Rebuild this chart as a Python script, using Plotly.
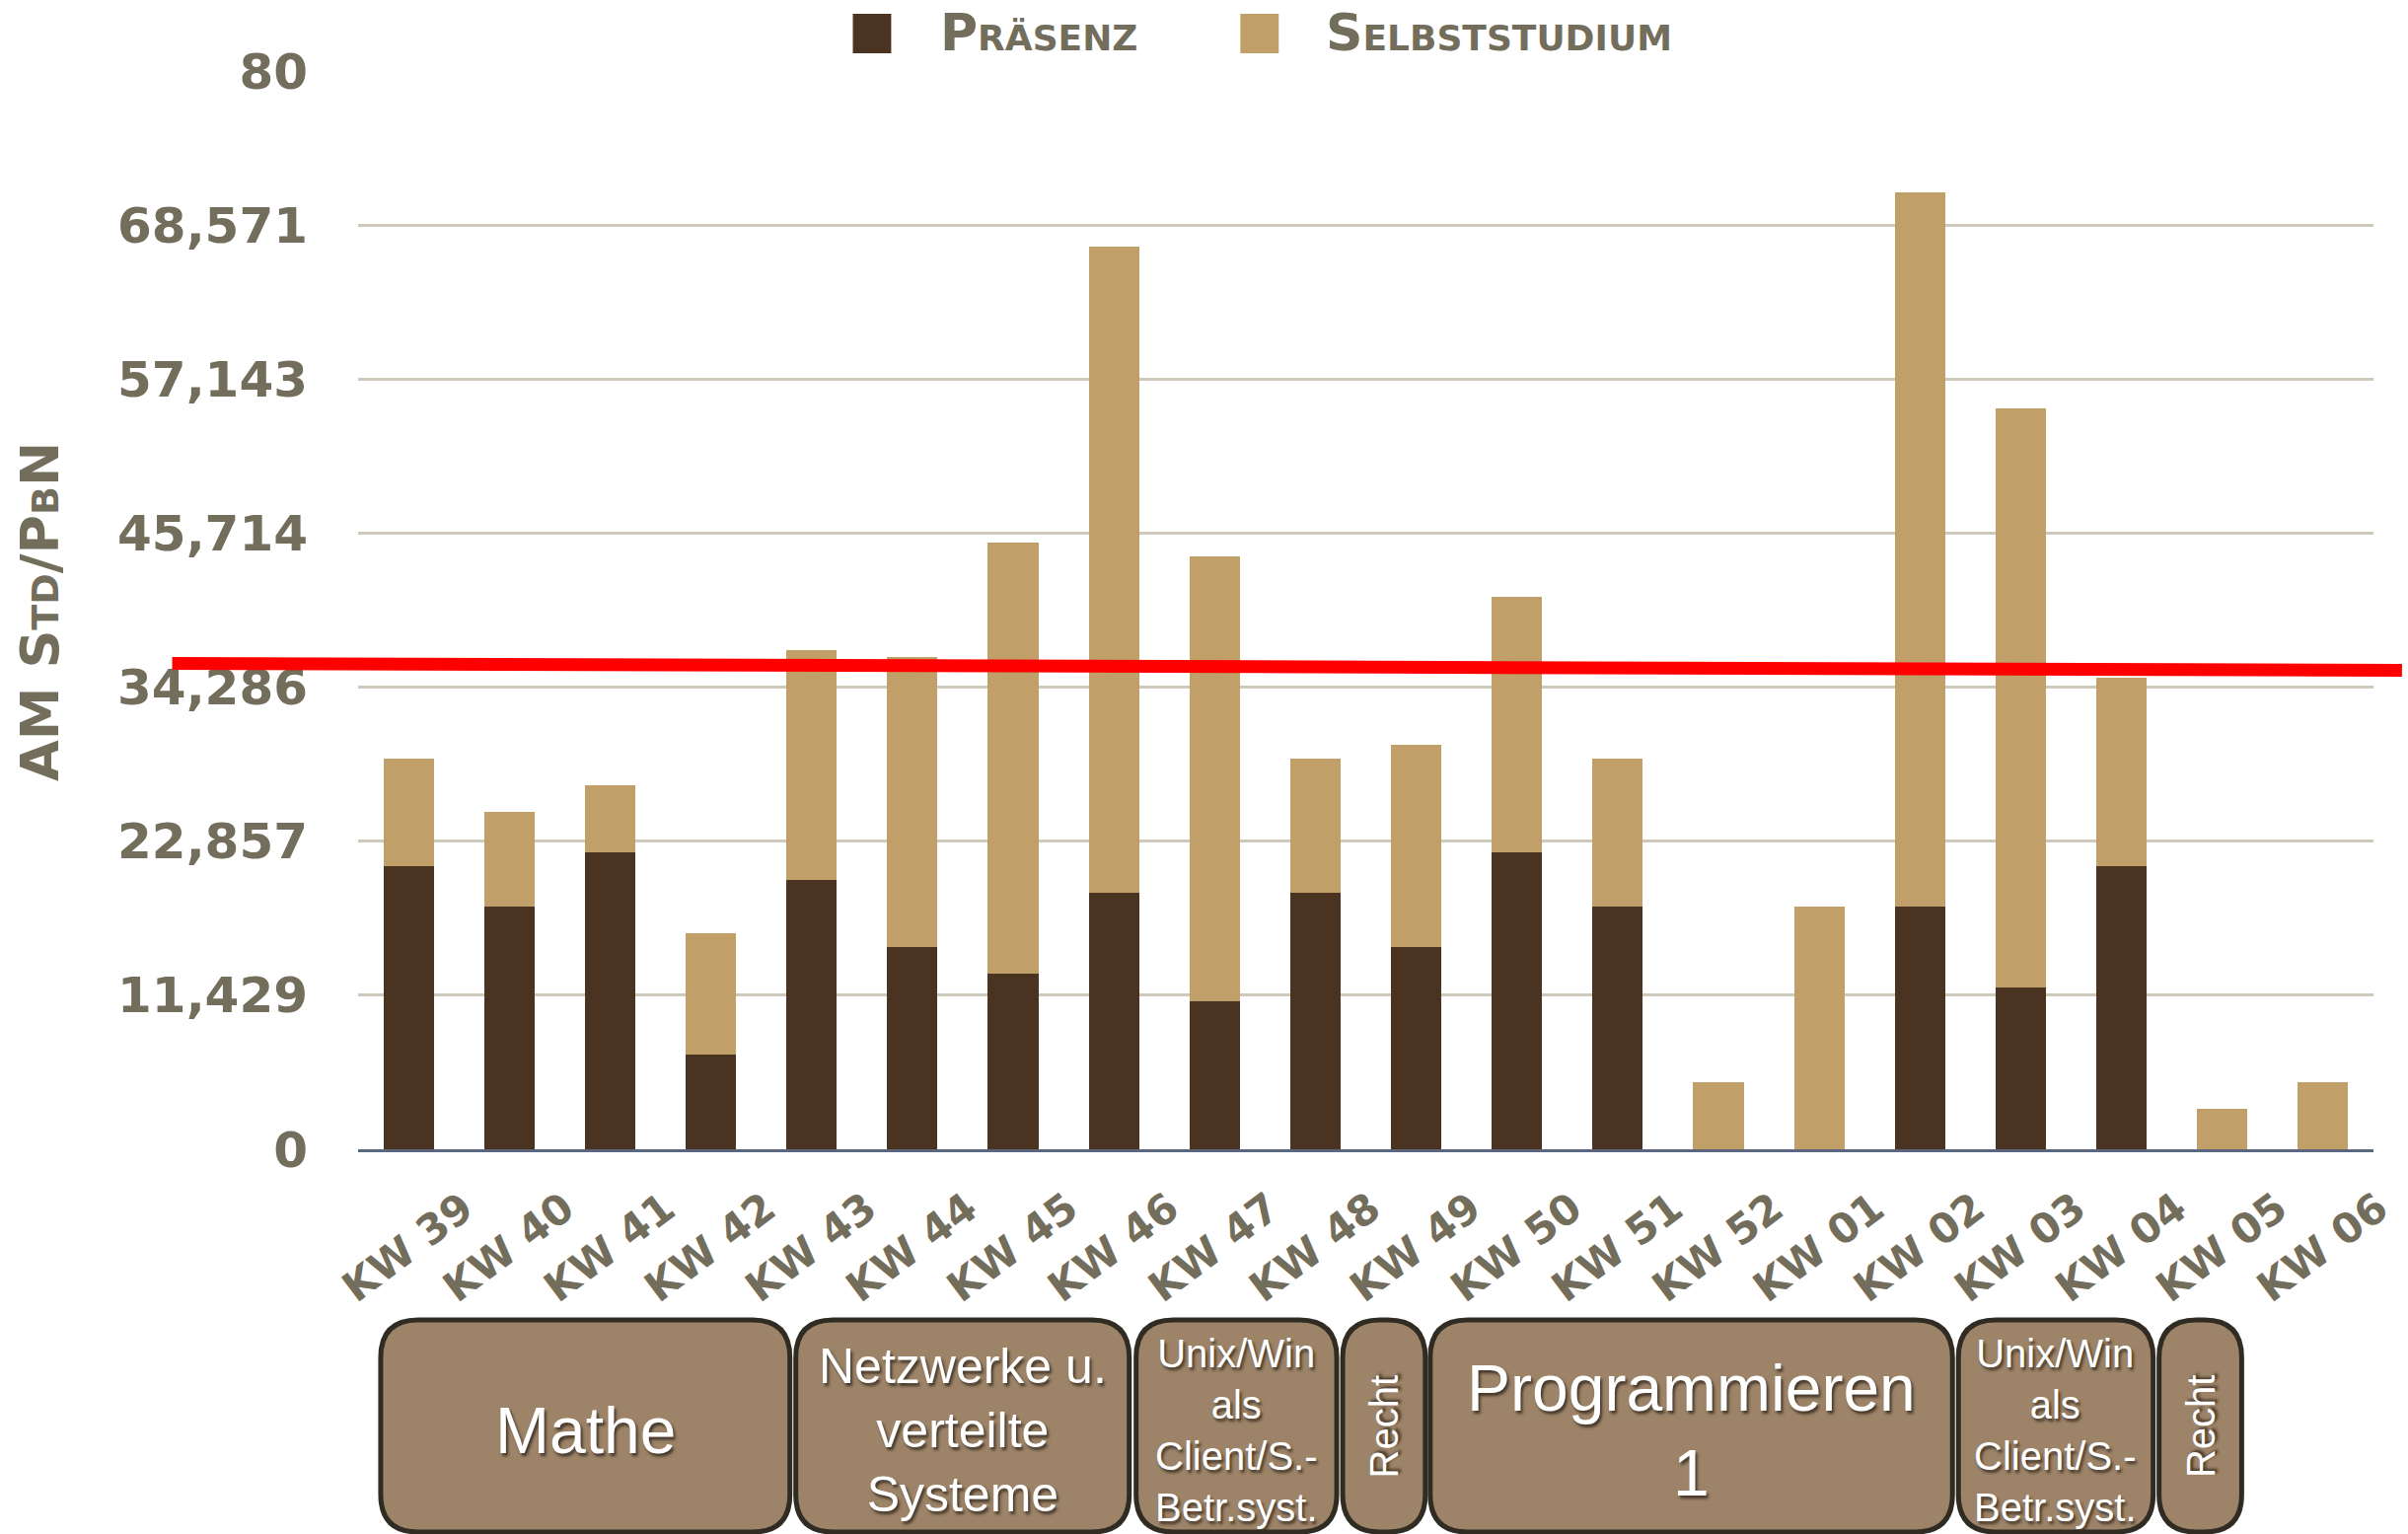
import plotly.graph_objects as go

# ---------------- data ----------------
weeks = ["KW 39", "KW 40", "KW 41", "KW 42", "KW 43", "KW 44", "KW 45", "KW 46", "KW 47", "KW 48",
         "KW 49", "KW 50", "KW 51", "KW 52", "KW 01", "KW 02", "KW 03", "KW 04", "KW 05", "KW 06"]
praesenz = [21, 18, 22, 7, 20, 15, 13, 19, 11, 19, 15, 22, 18, 0, 0, 18, 12, 21, 0, 0]
total = [29, 25, 27, 16, 37, 36.5, 45, 67, 44, 29, 30, 41, 29, 5, 18, 71, 55, 35, 3, 5]
selbst = [t - p for t, p in zip(total, praesenz)]
y_tick_labels = ["0", "11,429", "22,857", "34,286", "45,714", "57,143", "68,571", "80"]
series_names = ["Präsenz", "Selbststudium"]
red_line_values = [36.05, 35.54]   # hand-drawn reference line (left end, right end)
modules = ["Mathe", "Netzwerke u.<br>verteilte<br>Systeme", "Unix/Win<br>als<br>Client/S.-<br>Betr.syst.",
           "Recht", "Programmieren<br>1", "Unix/Win<br>als<br>Client/S.-<br>Betr.syst.", "Recht"]

# ---------------- styling / layout ----------------
W, H = 2441, 1555
ML, MR, MT, MB = 363, 29, 72, 390
PW, PH = W - ML - MR, H - MT - MB

C_PRAES = "#4b3322"
C_SELBST = "#c09f68"
C_TEXT = "#736d5c"
C_GRID = "#cfc9bb"
C_BOX = "#9d8468"
C_BOXLINE = "#302c23"
FONT_W = "DejaVu Sans"

def xp(px):
    return (px - ML) / PW

def yp(py):
    return (MT + PH - py) / PH

# module box geometry in pixels (x0, x1), plus font size and text angle
box_geom = [(386, 802, 66, 0), (808, 1147, 50, 0), (1154, 1358, 40, 0), (1364, 1448, 40, -90),
            (1453, 1984, 66, 0), (1990, 2188, 40, 0), (2194, 2278, 40, -90)]
BOX_TOP, BOX_BOT, RAD = 1338, 1553, 38

fig = go.Figure()
fig.add_trace(go.Bar(x=weeks, y=praesenz, name=series_names[0], marker=dict(color=C_PRAES, line=dict(width=0))))
fig.add_trace(go.Bar(x=weeks, y=selbst, name=series_names[1], marker=dict(color=C_SELBST, line=dict(width=0))))

shapes = []
annotations = []

# red reference line
shapes.append(dict(type="line", xref="paper", yref="y", x0=xp(174), x1=xp(2441),
                   y0=red_line_values[0], y1=red_line_values[1],
                   line=dict(color="#ff0000", width=13), layer="above"))

# module boxes
for label, (x0px, x1px, fs, ang) in zip(modules, box_geom):
    x0, x1 = xp(x0px), xp(x1px)
    y1, y0 = yp(BOX_TOP), yp(BOX_BOT)
    rx, ry = RAD / PW, RAD / PH
    path = (f"M {x0+rx},{y1} L {x1-rx},{y1} Q {x1},{y1} {x1},{y1-ry} L {x1},{y0+ry} "
            f"Q {x1},{y0} {x1-rx},{y0} L {x0+rx},{y0} Q {x0},{y0} {x0},{y0+ry} "
            f"L {x0},{y1-ry} Q {x0},{y1} {x0+rx},{y1} Z")
    shapes.append(dict(type="path", xref="paper", yref="paper", path=path,
                       fillcolor=C_BOX, line=dict(color=C_BOXLINE, width=5), layer="above"))
    annotations.append(dict(xref="paper", yref="paper", x=(x0 + x1) / 2, y=(y0 + y1) / 2 - (5 / PH if ang == 0 else 0),
                            text=label, showarrow=False, textangle=ang,
                            xanchor="center", yanchor="middle",
                            font=dict(family="Liberation Sans, Arial, sans-serif", size=fs, color="white",
                                      shadow="2px 3px 3px rgba(50,40,30,0.85)")))

# manual legend
leg_items = [(866, 953, C_PRAES, series_names[0]), (1260, 1345, C_SELBST, series_names[1])]
for sq_x, tx, col, name in leg_items:
    shapes.append(dict(type="rect", xref="paper", yref="paper", x0=xp(sq_x), x1=xp(sq_x + 39),
                       y0=yp(54), y1=yp(14), fillcolor=col, line=dict(width=0)))
    annotations.append(dict(xref="paper", yref="paper", x=xp(tx), y=yp(33), text=name, showarrow=False,
                            xanchor="left", yanchor="middle",
                            font=dict(family=FONT_W, size=52, color=C_TEXT, weight="bold", variant="small-caps")))

# y-axis title
annotations.append(dict(xref="paper", yref="paper", x=xp(39), y=yp(620), text="AM Std/PbN", showarrow=False,
                        textangle=-90, xanchor="center", yanchor="middle",
                        font=dict(family=FONT_W, size=54, color=C_TEXT, weight="bold", variant="small-caps")))

fig.update_layout(
    width=W, height=H,
    margin=dict(l=ML, r=MR, t=MT, b=MB, pad=0),
    paper_bgcolor="white", plot_bgcolor="white",
    barmode="stack", bargap=0.5,
    showlegend=False,
    shapes=shapes, annotations=annotations,
    xaxis=dict(type="category", range=[-0.5, len(weeks) - 0.5], showgrid=False, showline=True,
               linecolor="#5b6680", linewidth=3, ticks="", tickangle=-37,
               tickfont=dict(family=FONT_W, size=42, color=C_TEXT, weight="bold"),
               ticklabelstandoff=16, ticklabelshift=56),
    yaxis=dict(range=[0, 80], tickvals=[float(t.replace(",", ".")) for t in y_tick_labels],
               ticktext=y_tick_labels, showgrid=True, gridcolor=C_GRID, gridwidth=3,
               zeroline=False, showline=False, ticks="",
               tickfont=dict(family=FONT_W, size=50, color=C_TEXT, weight="bold"),
               ticklabelstandoff=50),
)

fig.write_html("out.html", config={"displayModeBar": False},
               post_script="document.body.style.margin='0';document.body.style.overflow='hidden';")
